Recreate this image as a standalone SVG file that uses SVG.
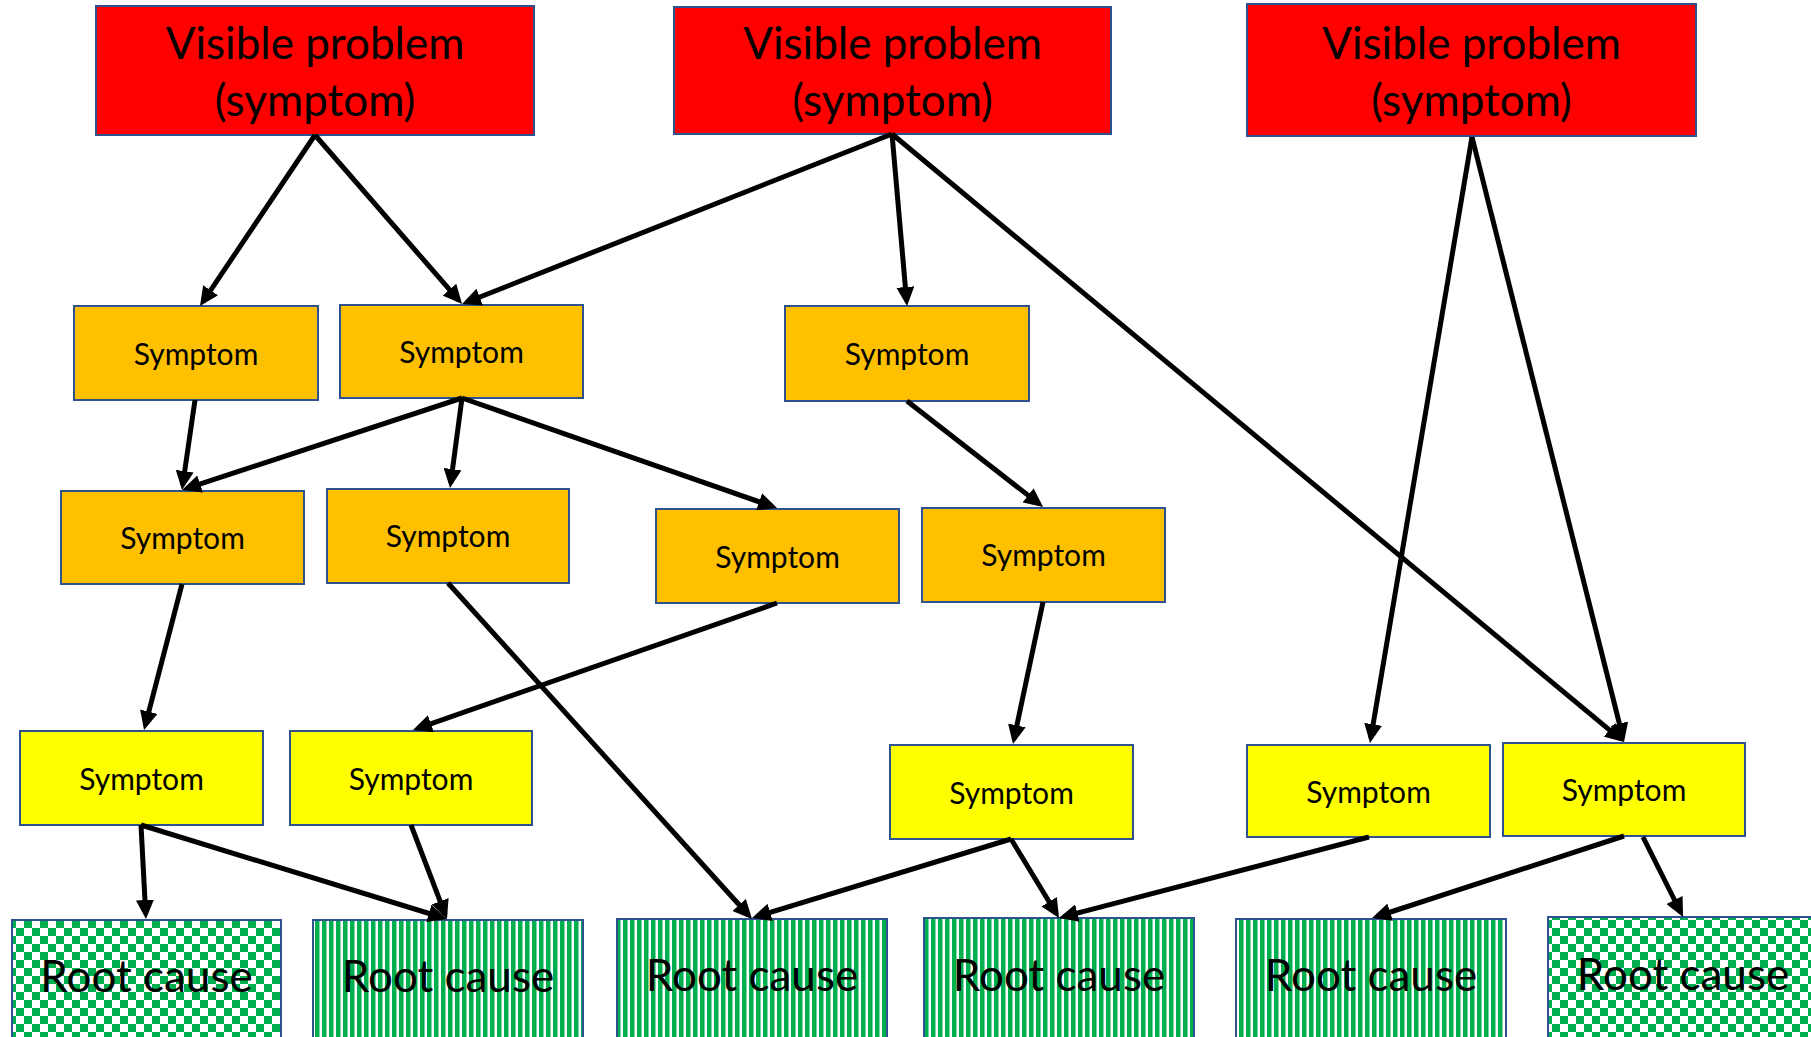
<svg xmlns="http://www.w3.org/2000/svg" width="1811" height="1037" viewBox="0 0 1811 1037">
<style>
.box{stroke:#2F528F;stroke-width:2}
.red{fill:#FF0000}
.org{fill:#FFC000}
.yel{fill:#FFFF00}
.chk{fill:url(#checker)}
.str{fill:url(#stripes)}
.big{font-family:Lato,"Liberation Sans",sans-serif;font-size:44px;fill:#000;text-anchor:middle}
.sym{font-family:Lato,"Liberation Sans",sans-serif;font-size:30px;fill:#000;text-anchor:middle}
.rc{font-family:Lato,"Liberation Sans",sans-serif;font-size:44px;fill:#000;text-anchor:middle}
.conn line{stroke:#000;stroke-width:5;marker-end:url(#arrow)}
</style>
<defs>
<pattern id="checker" width="16" height="16" patternUnits="userSpaceOnUse">
<rect width="16" height="16" fill="#FFFFFF"/>
<rect width="8" height="8" fill="#00B050"/>
<rect x="8" y="8" width="8" height="8" fill="#00B050"/>
</pattern>
<pattern id="stripes" width="7" height="10" patternUnits="userSpaceOnUse">
<rect width="7" height="10" fill="#FFFFFF"/>
<rect width="4.5" height="10" fill="#00B050"/>
</pattern>
<marker id="arrow" markerUnits="userSpaceOnUse" markerWidth="20" markerHeight="18" refX="14" refY="9" orient="auto">
<path d="M0,0 L19,9 L0,18 z" fill="#000"/>
</marker>
</defs>
<rect width="1811" height="1037" fill="#FFFFFF"/>

<g id="vp1"><rect class="box red" x="96" y="6" width="438" height="129"/><text class="big" x="315" y="59">Visible problem</text><text class="big" x="315" y="116">(symptom)</text></g>
<g id="vp2"><rect class="box red" x="674" y="7" width="437" height="127"/><text class="big" x="892.5" y="59">Visible problem</text><text class="big" x="892.5" y="116">(symptom)</text></g>
<g id="vp3"><rect class="box red" x="1247" y="4" width="449" height="132"/><text class="big" x="1471.5" y="59">Visible problem</text><text class="big" x="1471.5" y="116">(symptom)</text></g>

<g id="s1"><rect class="box org" x="74" y="306" width="244" height="94"/><text class="sym" x="196" y="365">Symptom</text></g>
<g id="s2"><rect class="box org" x="340" y="305" width="243" height="93"/><text class="sym" x="461.5" y="363">Symptom</text></g>
<g id="s3"><rect class="box org" x="785" y="306" width="244" height="95"/><text class="sym" x="907" y="365">Symptom</text></g>
<g id="s4"><rect class="box org" x="61" y="491" width="243" height="93"/><text class="sym" x="182.5" y="549">Symptom</text></g>
<g id="s5"><rect class="box org" x="327" y="489" width="242" height="94"/><text class="sym" x="448" y="547">Symptom</text></g>
<g id="s6"><rect class="box org" x="656" y="509" width="243" height="94"/><text class="sym" x="777.5" y="568">Symptom</text></g>
<g id="s7"><rect class="box org" x="922" y="508" width="243" height="94"/><text class="sym" x="1043.5" y="566">Symptom</text></g>

<g id="s8"><rect class="box yel" x="20" y="731" width="243" height="94"/><text class="sym" x="141.5" y="790">Symptom</text></g>
<g id="s9"><rect class="box yel" x="290" y="731" width="242" height="94"/><text class="sym" x="411" y="790">Symptom</text></g>
<g id="s10"><rect class="box yel" x="890" y="745" width="243" height="94"/><text class="sym" x="1011.5" y="804">Symptom</text></g>
<g id="s11"><rect class="box yel" x="1247" y="745" width="243" height="92"/><text class="sym" x="1368.5" y="803">Symptom</text></g>
<g id="s12"><rect class="box yel" x="1503" y="743" width="242" height="93"/><text class="sym" x="1624" y="801">Symptom</text></g>

<g id="rc1"><rect class="box chk" x="12" y="920" width="269" height="130"/><text class="rc" x="146.5" y="992">Root cause</text></g>
<g id="rc2"><rect class="box str" x="313" y="920" width="270" height="130"/><text class="rc" x="448" y="992">Root cause</text></g>
<g id="rc3"><rect class="box str" x="617" y="919" width="270" height="130"/><text class="rc" x="752" y="991">Root cause</text></g>
<g id="rc4"><rect class="box str" x="924" y="918" width="270" height="130"/><text class="rc" x="1059" y="991">Root cause</text></g>
<g id="rc5"><rect class="box str" x="1236" y="919" width="270" height="130"/><text class="rc" x="1371" y="991">Root cause</text></g>
<g id="rc6"><rect class="box chk" x="1548" y="917" width="270" height="130"/><text class="rc" x="1683" y="990">Root cause</text></g>

<g id="connectors" class="conn">
<line x1="315" y1="135" x2="202.8" y2="301.9"/>
<line x1="315" y1="135" x2="458.7" y2="300.2"/>
<line x1="892" y1="134" x2="466.7" y2="302.2"/>
<line x1="892" y1="134" x2="906.6" y2="301"/>
<line x1="892" y1="134" x2="1620.2" y2="738.8"/>
<line x1="1472" y1="137" x2="1370.8" y2="738.1"/>
<line x1="1472" y1="137" x2="1622.8" y2="737.2"/>
<line x1="195" y1="400" x2="182.7" y2="485"/>
<line x1="462" y1="398" x2="186.8" y2="488.4"/>
<line x1="462" y1="398" x2="450.7" y2="483"/>
<line x1="462" y1="398" x2="772.3" y2="506.4"/>
<line x1="907" y1="401" x2="1039.1" y2="503.9"/>
<line x1="182" y1="584" x2="145.3" y2="725.2"/>
<line x1="448" y1="583" x2="748.6" y2="915.3"/>
<line x1="777" y1="603" x2="417.7" y2="728.4"/>
<line x1="1043" y1="602" x2="1014" y2="739.1"/>
<line x1="141" y1="825" x2="145.7" y2="914"/>
<line x1="141" y1="825" x2="442.2" y2="917.5"/>
<line x1="411" y1="825" x2="445.2" y2="914.3"/>
<line x1="1011" y1="839" x2="756.8" y2="916.5"/>
<line x1="1011" y1="839" x2="1056.4" y2="913.7"/>
<line x1="1369" y1="837" x2="1063.8" y2="916.7"/>
<line x1="1624" y1="836" x2="1376.8" y2="916.5"/>
<line x1="1643" y1="837" x2="1680.8" y2="912.5"/>
</g>
</svg>
